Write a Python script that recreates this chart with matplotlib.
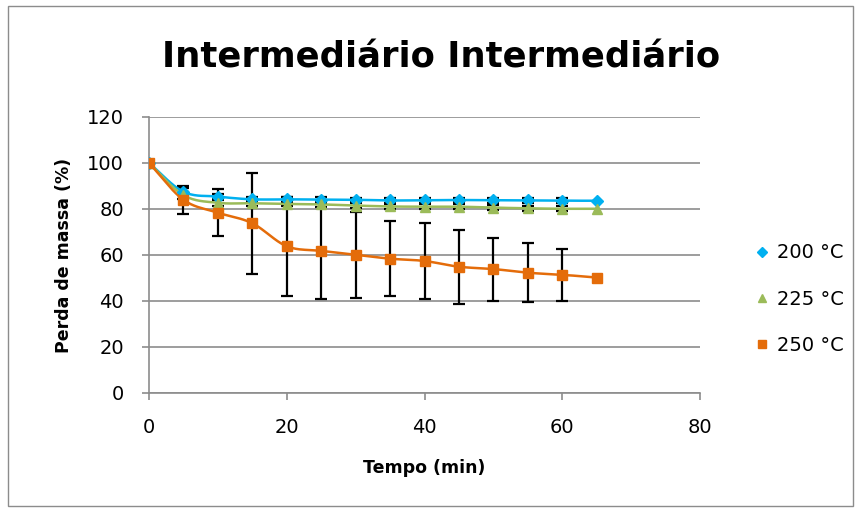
import numpy as np
import matplotlib.pyplot as plt
from matplotlib.patches import Rectangle

tempo = [0, 5, 10, 15, 20, 25, 30, 35, 40, 45, 50, 55, 60, 65]
perda_200 = [100, 87.5, 85.4, 84.2, 84.2, 84.1, 84.0, 83.7, 83.8, 83.9, 83.8, 83.7, 83.6, 83.6]
perda_225 = [100, 86.0, 82.7, 82.5, 82.2, 82.0, 81.5, 81.1, 81.0, 81.0, 80.6, 80.3, 80.1, 80.1]
perda_250 = [100, 84.0, 78.4, 73.8, 63.8, 61.8, 60.1, 58.4, 57.4, 54.9, 53.9, 52.3, 51.4, 50.2]
erro_200 = [0, 1.5, 1.2, 1.2, 1.0, 1.0, 1.0, 1.0, 1.0, 1.0, 1.0, 1.0, 1.0, 0]
erro_225 = [0, 1.5, 1.2, 1.2, 1.0, 1.0, 1.0, 1.0, 1.0, 1.0, 1.0, 1.0, 1.0, 0]
erro_250 = [0, 6.2, 10.3, 22.0, 21.5, 20.8, 18.7, 16.2, 16.7, 16.0, 13.7, 12.9, 11.4, 0]


def suavizar(x, y, n=20):
    # curva suave tipo Excel (Catmull-Rom) passando pelos pontos
    x = np.asarray(x, float)
    y = np.asarray(y, float)
    px = np.concatenate([[2 * x[0] - x[1]], x, [2 * x[-1] - x[-2]]])
    py = np.concatenate([[2 * y[0] - y[1]], y, [2 * y[-1] - y[-2]]])
    t = np.linspace(0, 1, n)
    xs, ys = [], []
    for i in range(1, len(px) - 2):
        for p, out in ((px, xs), (py, ys)):
            p0, p1, p2, p3 = p[i - 1], p[i], p[i + 1], p[i + 2]
            out.extend(0.5 * (2 * p1 + (-p0 + p2) * t
                              + (2 * p0 - 5 * p1 + 4 * p2 - p3) * t ** 2
                              + (-p0 + 3 * p1 - 3 * p2 + p3) * t ** 3))
    return np.array(xs), np.array(ys)


fig = plt.figure(figsize=(8.61, 5.12), dpi=100)
ax = fig.add_axes([149 / 861, 1 - 393 / 512, (700 - 149) / 861, (393 - 117) / 512])

series = [
    (perda_200, erro_200, '#00B0F0', 'D', 6, '200 °C'),
    (perda_225, erro_225, '#9BBB59', '^', 7.5, '225 °C'),
    (perda_250, erro_250, '#E46C0A', 's', 7, '250 °C'),
]

for y, e, cor, m, ms, nome in series:
    xs, ys = suavizar(tempo, y)
    ax.plot(xs, ys, color=cor, lw=1.8, zorder=3)
    ax.errorbar(tempo[:-1], y[:-1], yerr=e[:-1], fmt='none', ecolor='black',
                elinewidth=1.6, capsize=4.5, capthick=1.6, zorder=2)
    ax.plot(tempo, y, linestyle='none', marker=m, markersize=ms, color=cor,
            markeredgecolor=cor, zorder=4, label=nome)

ax.set_xlim(0, 80)
ax.set_ylim(0, 120)
ax.set_xticks(range(0, 81, 20))
ax.set_yticks(range(0, 121, 20))
ax.yaxis.grid(True, color='#8c8c8c', lw=1.2)
ax.set_axisbelow(True)
for s in ['top', 'right']:
    ax.spines[s].set_visible(False)
for s in ['left', 'bottom']:
    ax.spines[s].set_color('#8c8c8c')
    ax.spines[s].set_linewidth(1.2)
ax.tick_params(axis='both', colors='#8c8c8c', labelcolor='black', labelsize=14,
               length=5, width=1.2, direction='out', pad=13)

ax.set_xlabel('Tempo (min)', fontsize=12.5, fontweight='bold', labelpad=16)
ax.set_ylabel('Perda de massa (%)', fontsize=12.5, fontweight='bold', labelpad=10)

fig.text(441 / 861, 1 - 57 / 512, 'Intermediário Intermediário', fontsize=25.5,
         fontweight='bold', ha='center', va='center')

ax.legend(loc='center left', bbox_to_anchor=(1.07, 0.34), frameon=False,
          fontsize=14, handlelength=0.6, handletextpad=0.5, labelspacing=1.4,
          markerscale=0.8)

fig.patches.append(Rectangle((8 / 861, 6 / 512), 845 / 861, 500 / 512,
                             transform=fig.transFigure, fill=False,
                             edgecolor='#8c8c8c', lw=1))

fig.savefig('out.png', dpi=100)
